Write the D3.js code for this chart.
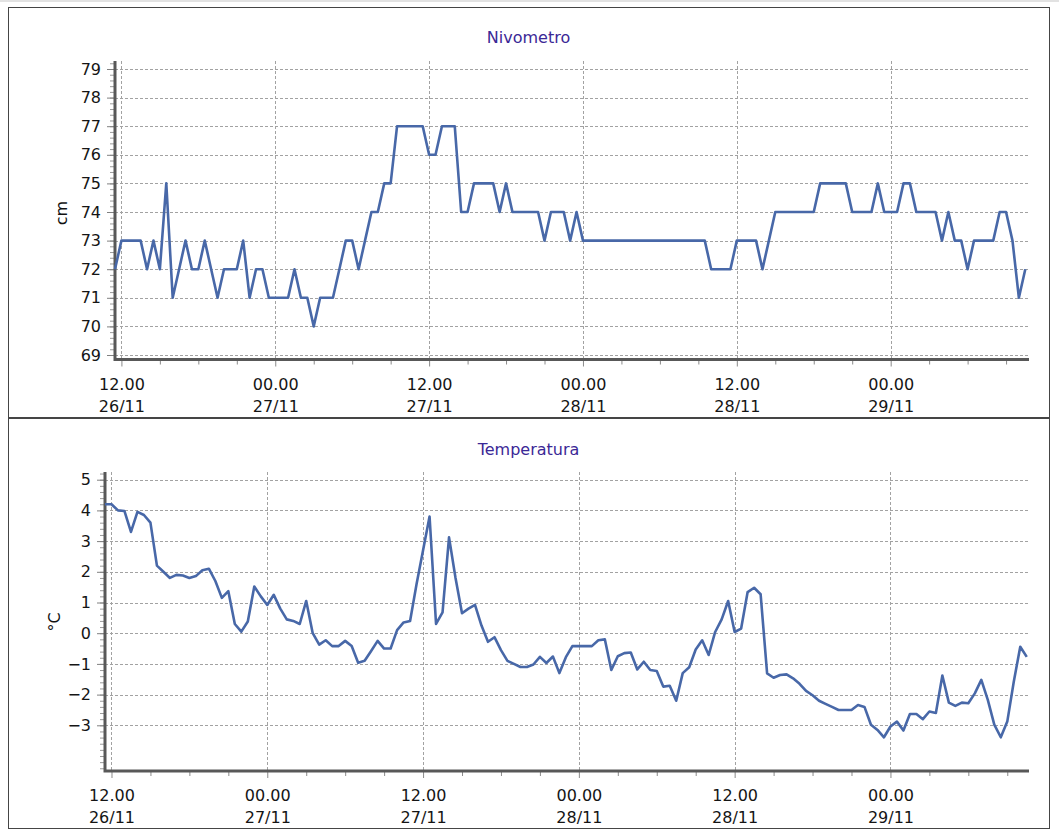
<!DOCTYPE html>
<html>
<head>
<meta charset="utf-8">
<script src="https://cdn.jsdelivr.net/npm/d3@7"></script>
<style>
    body { margin: 0; background: #fff; }
</style>
</head>
<body>
<div id="draw_here"></div>
<script type="text/javascript">
    // Readings every 30 minutes, starting 26/11 11:30
    start_time = "26/11 11:30"
    end_time = "29/11 10:45"
    step_minutes = 30

    nivo_cm = [
        72,73,73,73,73,72,73,72,75,71,
        72,73,72,72,73,72,71,72,72,72,
        73,71,72,72,71,71,71,71,72,71,
        71,70,71,71,71,72,73,73,72,73,
        74,74,75,75,77,77,77,77,77,76,
        76,77,77,77,74,74,75,75,75,75,
        74,75,74,74,74,74,74,73,74,74,
        74,73,74,73,73,73,73,73,73,73,
        73,73,73,73,73,73,73,73,73,73,
        73,73,73,72,72,72,72,73,73,73,
        73,72,73,74,74,74,74,74,74,74,
        75,75,75,75,75,74,74,74,74,75,
        74,74,74,75,75,74,74,74,74,73,
        74,73,73,72,73,73,73,73,74,74,
        73,71,72
    ]

    temp_c = [
        4.2,4.2,4.0,3.98,3.3,3.95,3.85,3.6,2.2,2.0,
        1.8,1.9,1.88,1.8,1.86,2.05,2.1,1.7,1.15,1.37,
        0.3,0.05,0.38,1.52,1.2,0.92,1.25,0.8,0.45,0.4,
        0.3,1.05,0.0,-0.37,-0.23,-0.42,-0.42,-0.25,-0.42,-0.96,
        -0.9,-0.58,-0.25,-0.5,-0.5,0.1,0.35,0.4,1.6,2.7,
        3.8,0.3,0.68,3.12,1.8,0.65,0.8,0.92,0.25,-0.28,
        -0.13,-0.55,-0.9,-1.0,-1.1,-1.1,-1.02,-0.77,-0.97,-0.76,
        -1.3,-0.78,-0.42,-0.42,-0.42,-0.42,-0.23,-0.2,-1.2,-0.75,
        -0.65,-0.63,-1.18,-0.93,-1.2,-1.23,-1.74,-1.71,-2.2,-1.3,
        -1.11,-0.53,-0.23,-0.71,0.04,0.45,1.05,0.04,0.15,1.34,
        1.48,1.27,-1.31,-1.45,-1.36,-1.34,-1.47,-1.65,-1.88,-2.02,
        -2.2,-2.3,-2.4,-2.5,-2.5,-2.5,-2.34,-2.4,-2.98,-3.15,
        -3.39,-3.04,-2.88,-3.17,-2.63,-2.63,-2.8,-2.55,-2.6,-1.38,
        -2.26,-2.37,-2.26,-2.28,-1.96,-1.52,-2.17,-2.98,-3.39,-2.88,
        -1.58,-0.44,-0.77
    ]

    nivo_ticks = [69,70,71,72,73,74,75,76,77,78,79]
    temp_ticks = [-3,-2,-1,0,1,2,3,4,5]

    canvas = ({width: 1059, height: 831})
    font = "'DejaVu Sans', Verdana, sans-serif"
    l_blue = "#4868a8"
    title_col = "#3b2896"
    grid_col = "#a2a2a2"
    axis_col = "#585858"

    parse = d3.timeParse("%d/%m %H:%M")
    t0 = parse(start_time)
    t1 = parse(end_time)
    times = d3.range(nivo_cm.length).map(i => d3.timeMinute.offset(t0, i * step_minutes))

    fmt_hour = d3.timeFormat("%H.%M")
    fmt_day = d3.timeFormat("%d/%m")
    major_x = d3.timeHour.every(12).range(t0, t1)
    minor_x = d3.timeHour.every(3).range(t0, t1).filter(d => d.getHours() % 12 != 0)

    var svg = d3.select("div#draw_here").append("svg")
        .attr("width", canvas.width)
        .attr("height", canvas.height)
        .attr("viewBox", [0, 0, canvas.width, canvas.height])
        .style("font-family", font)

    svg.append("rect")
        .attr("x", 0).attr("y", 0)
        .attr("width", canvas.width).attr("height", 2)
        .attr("fill", "#e2e2e2")

    function draw_panel(p) {
        var g = svg.append("g")

        g.append("rect")
            .attr("x", 8.5).attr("y", p.frame[0])
            .attr("width", 1041).attr("height", p.frame[1] - p.frame[0])
            .attr("fill", "#fff")
            .attr("stroke", "#454545")

        var x = d3.scaleTime().domain([t0, t1]).range([p.axis_x, p.right])
        var y = d3.scaleLinear().domain(p.y_domain).range(p.y_range)

        // title
        g.append("text")
            .attr("x", 528.5).attr("y", p.title_y)
            .attr("text-anchor", "middle")
            .attr("font-size", 16)
            .attr("fill", title_col)
            .text(p.title)

        // unit label
        g.append("text")
            .attr("transform", `translate(${p.unit_x},${p.unit_y}) rotate(-90)`)
            .attr("text-anchor", "middle")
            .attr("font-size", 16)
            .attr("fill", "#111")
            .text(p.unit)

        // grid
        g.append("g").selectAll("line").data(p.ticks).join("line")
            .attr("x1", p.axis_x).attr("x2", p.grid_right)
            .attr("y1", d => Math.round(y(d)) + 0.5).attr("y2", d => Math.round(y(d)) + 0.5)
            .attr("stroke", grid_col)
            .attr("stroke-dasharray", "3,2")

        g.append("g").selectAll("line").data(major_x).join("line")
            .attr("x1", d => Math.round(x(d)) + 0.5).attr("x2", d => Math.round(x(d)) + 0.5)
            .attr("y1", p.plot_top).attr("y2", p.plot_bottom)
            .attr("stroke", grid_col)
            .attr("stroke-dasharray", "3,2")

        // minor y ticks
        minor_y = d3.range(p.minor_y[0], p.minor_y[1], 0.2)
        g.append("g")
            .attr("transform", `translate(${p.axis_x},0)`)
            .call(d3.axisLeft(y).tickValues(minor_y).tickSize(5).tickFormat(""))
            .call(a => a.select(".domain").remove())
            .call(a => a.selectAll("line").attr("stroke", "#9a9a9a"))

        // y axis
        g.append("g")
            .attr("transform", `translate(${p.axis_x},0)`)
            .call(d3.axisLeft(y).tickValues(p.ticks).tickSize(8).tickPadding(6).tickFormat(d3.format("d")))
            .call(a => a.select(".domain").remove())
            .call(a => a.selectAll("line").attr("stroke", "#808080"))
            .call(a => a.selectAll("text")
                .attr("font-size", 16).attr("font-family", font).attr("fill", "#151515"))

        // x axis
        g.append("g")
            .attr("transform", `translate(0,${p.plot_bottom})`)
            .call(d3.axisBottom(x).tickValues(minor_x).tickSize(5).tickFormat(""))
            .call(a => a.select(".domain").remove())
            .call(a => a.selectAll("line").attr("stroke", "#8a8a8a"))

        g.append("g")
            .attr("transform", `translate(0,${p.plot_bottom})`)
            .call(d3.axisBottom(x).tickValues(major_x).tickSize(7))
            .call(a => a.select(".domain").remove())
            .call(a => a.selectAll("line").attr("stroke", "#8a8a8a"))
            .call(a => a.selectAll(".tick text")
                .attr("font-size", 16).attr("font-family", font).attr("fill", "#151515")
                .attr("dy", null).attr("y", null)
                .text(null)
                .call(t => {
                    t.append("tspan").attr("x", 0).attr("y", 30).text(d => fmt_hour(d))
                    t.append("tspan").attr("x", 0).attr("y", 52).text(d => fmt_day(d))
                }))

        // axis lines
        g.append("path")
            .attr("fill", "none")
            .attr("stroke", axis_col)
            .attr("stroke-width", 3)
            .attr("d", `M${p.axis_x},${p.plot_top}V${p.plot_bottom}H${p.grid_right}`)

        // series
        var line = d3.line()
            .x((d, i) => x(times[i]))
            .y(d => y(d))

        g.append("path")
            .attr("fill", "none")
            .attr("stroke", l_blue)
            .attr("stroke-width", 2.6)
            .attr("stroke-linejoin", "round")
            .attr("d", line(p.values))
    }

    draw_panel({
        frame: [7.5, 417.5],
        title: "Nivometro", title_y: 42.5,
        unit: "cm", unit_x: 67, unit_y: 213,
        values: nivo_cm,
        ticks: nivo_ticks,
        y_domain: [69, 79], y_range: [355, 69],
        minor_y: [69, 79.3],
        axis_x: 115, right: 1028.5, grid_right: 1029,
        plot_top: 61, plot_bottom: 359.5
    })

    draw_panel({
        frame: [418.5, 828.5],
        title: "Temperatura", title_y: 455,
        unit: "°C", unit_x: 59.5, unit_y: 622,
        values: temp_c,
        ticks: temp_ticks,
        y_domain: [-3, 5], y_range: [725.3, 479.7],
        minor_y: [-4.4, 5.3],
        axis_x: 105, right: 1030, grid_right: 1029,
        plot_top: 472, plot_bottom: 771
    })
</script>
</body>
</html>
